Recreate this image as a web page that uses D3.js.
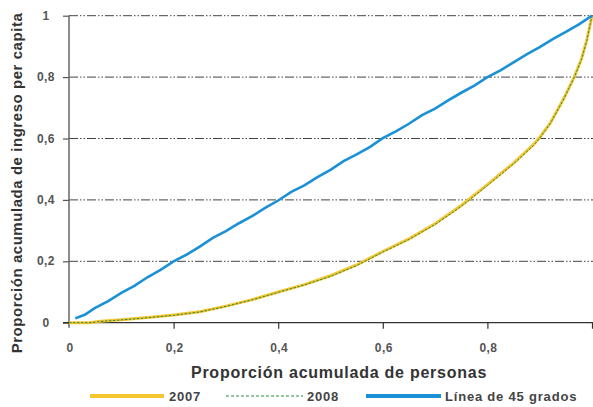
<!DOCTYPE html>
<html><head><meta charset="utf-8">
<script src="https://cdn.jsdelivr.net/npm/d3@7"></script>
<style>body{margin:0;background:#fff;}svg{display:block;font-family:"Liberation Sans",Arial,sans-serif;}</style>
</head><body><svg id="c" width="593" height="407"></svg>
<script>
const xTicks = [0, 0.2, 0.4, 0.6, 0.8, 1];
const xTickLabels = ["0", "0,2", "0,4", "0,6", "0,8", ""];
const yTicks = [0, 0.2, 0.4, 0.6, 0.8, 1];
const yTickLabels = ["0", "0,2", "0,4", "0,6", "0,8", "1"];
const seriesNames = ["2007", "2008", "Línea de 45 grados"];

const lorenzX = [0, 0.04, 0.06, 0.1, 0.15, 0.2, 0.25, 0.3, 0.35, 0.4, 0.45, 0.5, 0.55, 0.6, 0.65, 0.7, 0.75, 0.8, 0.85, 0.888, 0.9, 0.92, 0.945, 0.966, 0.98, 0.99, 1];
const lorenz2007 = [0, 0, 0.005, 0.01, 0.017, 0.025, 0.036, 0.054, 0.075, 0.1, 0.124, 0.153, 0.188, 0.232, 0.273, 0.322, 0.382, 0.45, 0.52, 0.58, 0.604, 0.65, 0.727, 0.8, 0.86, 0.92, 1];
const lorenz2008 = [0, 0, 0.004, 0.009, 0.016, 0.024, 0.035, 0.053, 0.074, 0.099, 0.123, 0.151, 0.186, 0.23, 0.271, 0.32, 0.379, 0.447, 0.517, 0.577, 0.601, 0.648, 0.725, 0.799, 0.858, 0.918, 1];

const eqX = [0.012, 0.03, 0.05, 0.075, 0.1, 0.125, 0.15, 0.175, 0.2, 0.225, 0.25, 0.275, 0.3, 0.325, 0.35, 0.375, 0.4, 0.425, 0.45, 0.475, 0.5, 0.525, 0.55, 0.575, 0.6, 0.625, 0.65, 0.675, 0.7, 0.725, 0.75, 0.775, 0.8, 0.825, 0.85, 0.875, 0.9, 0.925, 0.95, 0.975, 1];
const eqY = [0.014, 0.026, 0.048, 0.07, 0.097, 0.12, 0.148, 0.172, 0.2, 0.222, 0.248, 0.276, 0.298, 0.324, 0.347, 0.374, 0.398, 0.426, 0.447, 0.474, 0.498, 0.526, 0.548, 0.572, 0.601, 0.623, 0.648, 0.676, 0.697, 0.724, 0.749, 0.772, 0.8, 0.822, 0.848, 0.874, 0.898, 0.924, 0.947, 0.972, 1];

const svg = d3.select("#c");
const x = d3.scaleLinear().domain([0, 1]).range([69, 592]);
const y = d3.scaleLinear().domain([0, 1]).range([322.7, 15.7]);

// gridlines
svg.append("g").selectAll("line").data(yTicks.slice(1)).join("line")
  .attr("x1", x(0)).attr("x2", 593)
  .attr("y1", d => y(d)).attr("y2", d => y(d))
  .attr("stroke", "#444").attr("stroke-width", 1)
  .attr("stroke-dasharray", "9,2,1.5,2,1.5,2");

// y axis
const yAxis = d3.axisLeft(y).tickValues(yTicks).tickSize(6).tickFormat("");
const gy = svg.append("g").attr("transform", `translate(${x(0)},0)`).call(yAxis);
gy.select(".domain").remove();
gy.selectAll(".tick line").attr("stroke", "#555").attr("stroke-width", 1.2);
svg.append("line").attr("x1", x(0)).attr("x2", x(0)).attr("y1", y(1)).attr("y2", y(0) + 5)
  .attr("stroke", "#666").attr("stroke-width", 1.5);
svg.append("g").selectAll("text").data(yTicks).join("text")
  .attr("x", 46).attr("y", d => y(d) + 4)
  .attr("text-anchor", "middle").attr("font-size", 12).attr("font-weight", "bold").attr("fill", "#555")
  .attr("letter-spacing", 0.4)
  .text((d, i) => yTickLabels[i]);

// x axis
const xAxis = d3.axisBottom(x).tickValues(xTicks.slice(1)).tickSize(6).tickFormat("");
const gx = svg.append("g").attr("transform", `translate(0,${y(0)})`).call(xAxis);
gx.select(".domain").remove();
gx.selectAll(".tick line").attr("stroke", "#333").attr("stroke-width", 1.2);
svg.append("line").attr("x1", 63).attr("x2", 593).attr("y1", y(0)).attr("y2", y(0))
  .attr("stroke", "#333").attr("stroke-width", 1.3);
svg.append("g").selectAll("text").data(xTicks).join("text")
  .attr("x", d => x(d) + 1).attr("y", 352)
  .attr("text-anchor", "middle").attr("font-size", 12).attr("font-weight", "bold").attr("fill", "#555")
  .attr("letter-spacing", 0.4)
  .text((d, i) => xTickLabels[i]);

// lines
const line = d3.line().x(d => x(d[0])).y(d => y(d[1]));
svg.append("path").datum(lorenzX.map((v, i) => [v, lorenz2007[i]]))
  .attr("d", line).attr("fill", "none").attr("stroke", "#F7C530").attr("stroke-width", 3);
svg.append("path").datum(lorenzX.map((v, i) => [v, lorenz2008[i]]))
  .attr("d", line).attr("fill", "none").attr("stroke", "#2E8B40").attr("stroke-width", 1)
  .attr("stroke-dasharray", "2.5,1.5");
svg.append("path").datum(eqX.map((v, i) => [v, eqY[i]]))
  .attr("d", line).attr("fill", "none").attr("stroke", "#1A90D6").attr("stroke-width", 2.6);

// titles
svg.append("text").attr("x", 339).attr("y", 378).attr("text-anchor", "middle")
  .attr("font-size", 16).attr("font-weight", "bold").attr("fill", "#333").attr("letter-spacing", 0.75)
  .text("Proporción acumulada de personas");
svg.append("text").attr("transform", "translate(22,183) rotate(-90)").attr("text-anchor", "middle")
  .attr("font-size", 15).attr("font-weight", "bold").attr("fill", "#333").attr("letter-spacing", 0.55)
  .text("Proporción acumulada de ingreso per capita");

// legend
const leg = [
  {x1: 90, x2: 164, tx: 169, color: "#F7C530", w: 4, dash: null},
  {x1: 226, x2: 303, tx: 307, color: "#2E8B40", w: 1, dash: "3,2"},
  {x1: 366, x2: 441, tx: 445, color: "#1A90D6", w: 4, dash: null}
];
const lg = svg.append("g").selectAll("g").data(leg).join("g");
lg.append("line").attr("x1", d => d.x1).attr("x2", d => d.x2).attr("y1", 396).attr("y2", 396)
  .attr("stroke", d => d.color).attr("stroke-width", d => d.w).attr("stroke-dasharray", d => d.dash);
lg.append("text").attr("x", d => d.tx).attr("y", 401).attr("font-size", 13).attr("font-weight", "bold").attr("fill", "#444")
  .attr("letter-spacing", 0.8)
  .text((d, i) => seriesNames[i]);
</script></body></html>
